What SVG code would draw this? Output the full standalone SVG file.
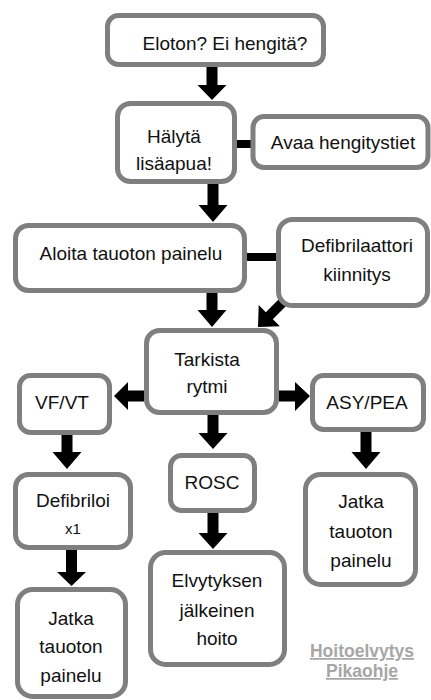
<svg xmlns="http://www.w3.org/2000/svg" width="431" height="700" viewBox="0 0 431 700">
<style>
.box{fill:#ffffff;stroke:#7f7f7f;stroke-width:5}
.t{font-family:"Liberation Sans",Arial,sans-serif;font-size:19px;fill:#111111;text-anchor:middle}
.small{font-size:15px}
.arr{fill:#000000}
.note{font-family:"Liberation Sans",Arial,sans-serif;font-size:17.5px;font-weight:bold;fill:#a6a6a6;text-anchor:middle;text-decoration:underline}
</style>
<rect width="431" height="700" fill="#ffffff"/>
<g id="connectors">
<polygon class="arr" points="206.5,67 217.5,67 217.5,85 226.5,85 212,100 197.5,85 206.5,85"/>
<polygon class="arr" points="207.5,184 218.5,184 218.5,205 227.5,205 213,222 198.5,205 207.5,205"/>
<polygon class="arr" points="206.5,293 217.5,293 217.5,310 226.5,310 212,327 197.5,310 206.5,310"/>
<polygon class="arr" points="290.5,301.5 283.5,294.5 265.8,312.2 258.7,305.1 258,327 279.9,326.3 272.8,319.2"/>
<polygon class="arr" points="207.5,415 218.5,415 218.5,433 227.5,433 213,449 198.5,433 207.5,433"/>
<polygon class="arr" points="144,390.5 144,401.5 128,401.5 128,410 114,396 128,382 128,390.5"/>
<polygon class="arr" points="279,390.5 279,401.5 295,401.5 295,411 310,396 295,382 295,390.5"/>
<polygon class="arr" points="61.5,435 72.5,435 72.5,452 81.5,452 67,469 52.5,452 61.5,452"/>
<polygon class="arr" points="360.5,432 371.5,432 371.5,452 380.5,452 366,469 351.5,452 360.5,452"/>
<polygon class="arr" points="66,550 77,550 77,572 86,572 71.5,586 57,572 66,572"/>
<polygon class="arr" points="207.5,513 218.5,513 218.5,533 227.5,533 213,549 198.5,533 207.5,533"/>
<rect class="arr" x="236" y="140" width="16" height="8"/>
<rect class="arr" x="246" y="253" width="32" height="8"/>
</g>
<g id="n-eloton">
<rect class="box" x="107.5" y="15.5" width="216" height="49" rx="11"/>
<text class="t" x="225" y="50">Eloton? Ei hengitä?</text>
</g>
<g id="n-halyta">
<rect class="box" x="117.5" y="103.5" width="117" height="78" rx="13"/>
<text class="t" x="174" y="143">Hälytä</text>
<text class="t" x="174" y="170">lisäapua!</text>
</g>
<g id="n-avaa">
<rect class="box" x="253" y="116.5" width="175" height="51" rx="11"/>
<text class="t" x="343" y="149">Avaa hengitystiet</text>
</g>
<g id="n-aloita">
<rect class="box" x="15.5" y="225.5" width="229" height="65" rx="13"/>
<text class="t" x="131" y="260">Aloita tauoton painelu</text>
</g>
<g id="n-defib">
<rect class="box" x="278.5" y="219.5" width="149" height="86" rx="14"/>
<text class="t" x="357" y="252">Defibrilaattori</text>
<text class="t" x="357" y="281">kiinnitys</text>
</g>
<g id="n-tarkista">
<rect class="box" x="146.5" y="330.5" width="130" height="82" rx="13"/>
<text class="t" x="207" y="366">Tarkista</text>
<text class="t" x="207" y="393">rytmi</text>
</g>
<g id="n-vfvt">
<rect class="box" x="19.5" y="375.5" width="90" height="57" rx="11"/>
<text class="t" x="62" y="409">VF/VT</text>
</g>
<g id="n-asypea">
<rect class="box" x="312.5" y="375.5" width="111" height="54" rx="11"/>
<text class="t" x="367" y="409">ASY/PEA</text>
</g>
<g id="n-rosc">
<rect class="box" x="170.5" y="455.5" width="84" height="55" rx="11"/>
<text class="t" x="212" y="489">ROSC</text>
</g>
<g id="n-defibriloi">
<rect class="box" x="15.5" y="474.5" width="115" height="73" rx="13"/>
<text class="t" x="73" y="507">Defibriloi</text>
<text class="t small" x="73" y="534">x1</text>
</g>
<g id="n-jatka-right">
<rect class="box" x="305.5" y="474.5" width="110" height="110" rx="15"/>
<text class="t" x="361" y="508">Jatka</text>
<text class="t" x="361" y="538">tauoton</text>
<text class="t" x="361" y="567">painelu</text>
</g>
<g id="n-elvytyksen">
<rect class="box" x="150.5" y="552.5" width="134" height="112" rx="15"/>
<text class="t" x="217" y="587">Elvytyksen</text>
<text class="t" x="217" y="617">jälkeinen</text>
<text class="t" x="217" y="645">hoito</text>
</g>
<g id="n-jatka-left">
<rect class="box" x="17.5" y="589.5" width="108" height="107" rx="15"/>
<text class="t" x="71" y="625">Jatka</text>
<text class="t" x="71" y="653">tauoton</text>
<text class="t" x="71" y="682">painelu</text>
</g>
<g id="caption">
<text class="note" x="362" y="657">Hoitoelvytys</text>
<text class="note" x="362" y="677">Pikaohje</text>
</g>
</svg>
